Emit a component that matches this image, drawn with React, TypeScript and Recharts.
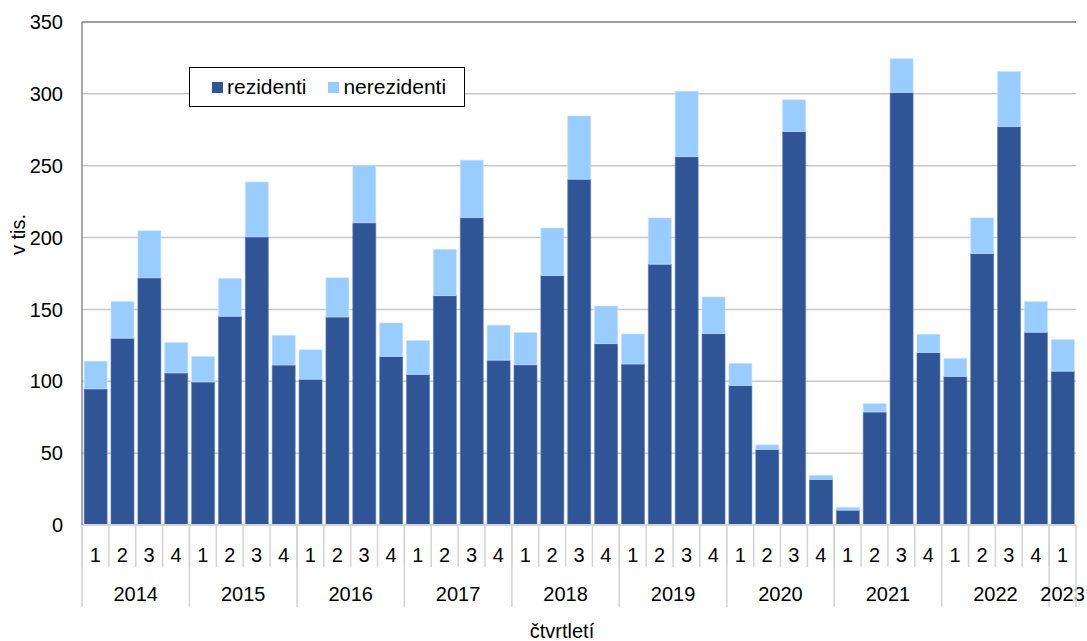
import React from 'react';
import { BarChart, Bar, XAxis, YAxis, CartesianGrid, Legend, ReferenceLine } from 'recharts';

const years = [
  '2014', '2014', '2014', '2014',
  '2015', '2015', '2015', '2015',
  '2016', '2016', '2016', '2016',
  '2017', '2017', '2017', '2017',
  '2018', '2018', '2018', '2018',
  '2019', '2019', '2019', '2019',
  '2020', '2020', '2020', '2020',
  '2021', '2021', '2021', '2021',
  '2022', '2022', '2022', '2022',
  '2023',
];
const quarters = [
  '1', '2', '3', '4', '1', '2', '3', '4', '1', '2', '3', '4',
  '1', '2', '3', '4', '1', '2', '3', '4', '1', '2', '3', '4',
  '1', '2', '3', '4', '1', '2', '3', '4', '1', '2', '3', '4',
  '1',
];
const rezidenti = [
  94.7, 130.0, 172.0, 105.8,
  99.5, 145.2, 200.5, 111.3,
  101.4, 144.7, 210.3, 117.3,
  104.8, 159.6, 213.9, 114.7,
  111.5, 173.6, 240.6, 126.2,
  112.0, 181.5, 256.3, 133.2,
  97.1, 52.6, 273.8, 31.7,
  10.3, 78.6, 301.0, 120.0,
  103.4, 188.9, 277.2, 134.1,
  107.0,
];
const nerezidenti = [
  19.3, 25.5, 32.8, 21.2,
  17.8, 26.4, 38.2, 20.7,
  20.5, 27.3, 39.9, 23.3,
  23.6, 32.2, 39.9, 24.3,
  22.4, 33.1, 44.0, 26.2,
  20.9, 32.2, 45.6, 25.5,
  15.4, 3.2, 22.1, 2.9,
  2.0, 5.8, 23.5, 12.7,
  12.5, 24.8, 38.4, 21.4,
  22.1,
];
const yTicks = [0, 50, 100, 150, 200, 250, 300, 350];

const data = years.map((y, i) => ({
  period: `${y}-${quarters[i]}`,
  rezidenti: rezidenti[i],
  nerezidenti: nerezidenti[i],
}));

const FONT = '"Liberation Sans", Arial, sans-serif';
const DARK = '#2F5597';
const LIGHT = '#99CCFF';
const SEP = '#d4d4d4';

const yearCount = (idx: number) => years.filter((y) => y === years[idx]).length;

const CategoryTick = (props: any) => {
  const { x, y, payload, index } = props;
  const off = payload.offset || 0;
  const i = index;
  const left = x - off;
  const right = x + off;
  const isFirstOfYear = i === 0 || years[i - 1] !== years[i];
  const isLast = i === years.length - 1;
  return (
    <g>
      <line x1={left} x2={left} y1={y} y2={y + 42} stroke={SEP} strokeWidth={1.5} />
      <text x={x} y={y + 37} textAnchor="middle" fontSize={20} fontFamily={FONT} fill="#000">
        {quarters[i]}
      </text>
      {isFirstOfYear && (
        <g>
          <line x1={left} x2={left} y1={y} y2={y + 82} stroke={SEP} strokeWidth={1.5} />
          <text
            x={left + off * yearCount(i)}
            y={y + 76}
            textAnchor="middle"
            fontSize={20}
            fontFamily={FONT}
            fill="#000"
          >
            {years[i]}
          </text>
        </g>
      )}
      {isLast && <line x1={right} x2={right} y1={y} y2={y + 82} stroke={SEP} strokeWidth={1.5} />}
    </g>
  );
};

const LegendBox = () => (
  <div
    style={{
      width: 276,
      height: 40,
      border: '1.5px solid #000',
      boxSizing: 'border-box',
      background: '#fff',
      display: 'flex',
      alignItems: 'center',
      fontFamily: FONT,
      fontSize: 21,
      color: '#000',
      paddingLeft: 22,
    }}
  >
    <span style={{ display: 'inline-block', width: 11, height: 11, background: DARK, marginRight: 4 }} />
    <span style={{ marginRight: 22 }}>rezidenti</span>
    <span style={{ display: 'inline-block', width: 11, height: 11, background: LIGHT, marginRight: 4 }} />
    <span>nerezidenti</span>
  </div>
);

export default function App() {
  return (
    <div style={{ position: 'absolute', left: 0, top: 0, width: 1087, height: 641, background: '#fff' }}>
      <BarChart
        width={1087}
        height={641}
        data={data}
        margin={{ top: 22, right: 11, bottom: 0, left: 0 }}
        barCategoryGap="8%"
      >
        <CartesianGrid vertical={false} stroke="#c8c8c8" strokeWidth={1.5} />
        <XAxis
          dataKey="period"
          interval={0}
          tickLine={false}
          tickSize={0}
          tickMargin={0}
          axisLine={{ stroke: SEP, strokeWidth: 2 }}
          height={116}
          tick={<CategoryTick />}
          label={{
            value: 'čtvrtletí',
            position: 'insideBottom',
            offset: 3,
            dx: -17,
            fontSize: 20,
            fontFamily: FONT,
            fill: '#000',
          }}
        />
        <YAxis
          domain={[0, 350]}
          ticks={yTicks}
          interval={0}
          width={82}
          tickLine={false}
          tickSize={0}
          tickMargin={19}
          axisLine={{ stroke: '#8c8c8c', strokeWidth: 1.5 }}
          tick={{ fontSize: 20, fontFamily: FONT, fill: '#000' }}
          label={({ viewBox }: any) => (
            <text
              x={viewBox.x + 25}
              y={viewBox.y + viewBox.height / 2 - 39}
              transform={`rotate(-90, ${viewBox.x + 25}, ${viewBox.y + viewBox.height / 2 - 39})`}
              textAnchor="middle"
              fontSize={20}
              fontFamily={FONT}
              fill="#000"
            >
              v tis.
            </text>
          )}
        />
        <YAxis
          yAxisId="right"
          orientation="right"
          domain={[0, 350]}
          width={0}
          tick={false}
          tickLine={false}
          axisLine={{ stroke: '#8c8c8c', strokeWidth: 1.5 }}
        />
        <ReferenceLine y={350} stroke="#8c8c8c" strokeWidth={1.5} />
        <Legend
          layout="vertical"
          align="center"
          verticalAlign="middle"
          content={<LegendBox />}
          wrapperStyle={{ position: 'absolute', left: 189, top: 67, width: 276, height: 40 }}
        />
        <Bar dataKey="rezidenti" stackId="a" fill={DARK} stroke="#5a7bb5" strokeWidth={0.6} isAnimationActive={false} />
        <Bar dataKey="nerezidenti" stackId="a" fill={LIGHT} stroke="#c4e2ff" strokeWidth={0.6} isAnimationActive={false} />
      </BarChart>
    </div>
  );
}
